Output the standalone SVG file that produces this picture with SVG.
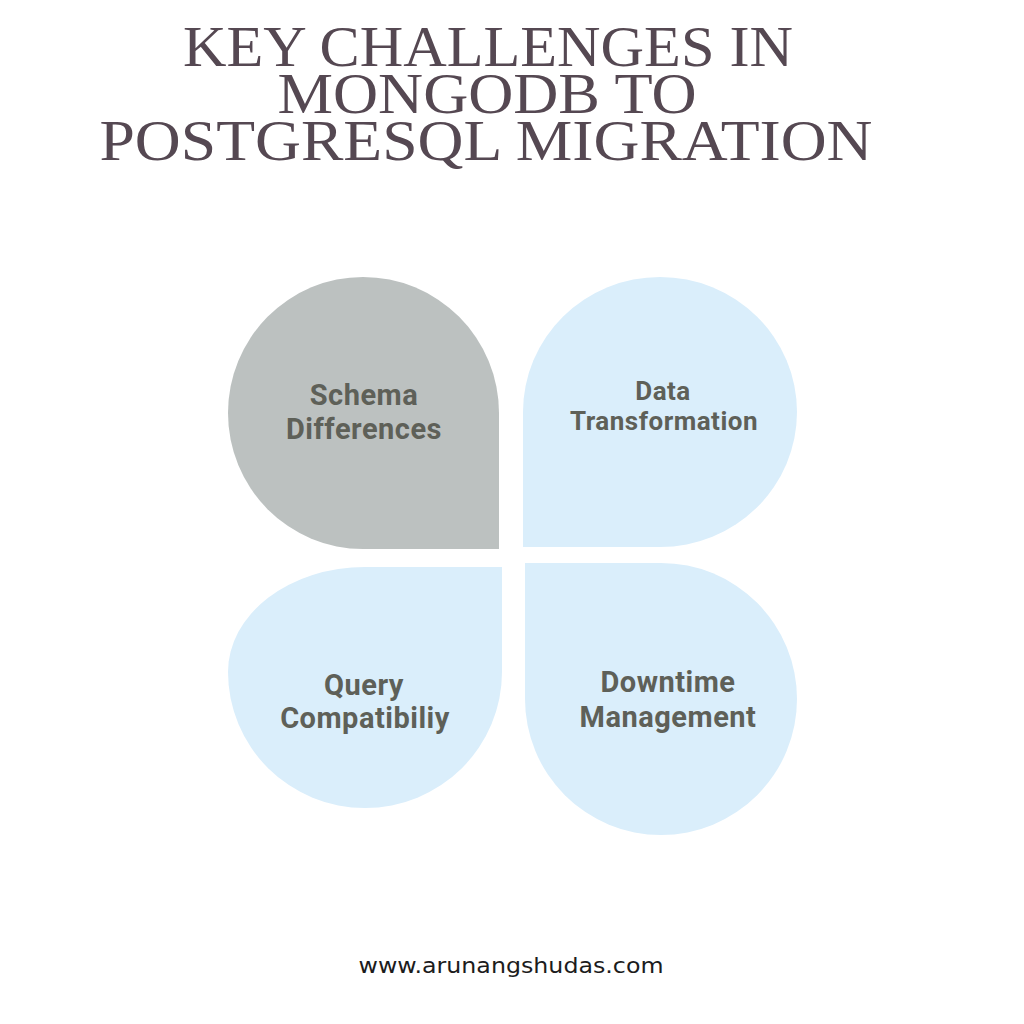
<svg xmlns="http://www.w3.org/2000/svg" width="1024" height="1024" viewBox="0 0 1024 1024">
<style>
.title{font-family:"Liberation Serif","DejaVu Serif",serif;font-size:46px;fill:#554852;text-anchor:middle}
.lbl{font-family:Roboto,"Liberation Sans",sans-serif;font-weight:bold;font-size:29px;letter-spacing:0.5px;fill:#5e6058;text-anchor:middle}
.sm{font-size:26px}
.gray{fill:#bcc1c0}
.blue{fill:#daeefb}
.foot{font-family:"DejaVu Sans","Liberation Sans",sans-serif;font-size:21px;fill:#1c1c1c;text-anchor:middle}
</style>
<rect width="1024" height="1024" fill="#ffffff"/>
<g id="title">
<text class="title" transform="translate(488,66) scale(1,1.25)" textLength="610" lengthAdjust="spacingAndGlyphs">KEY CHALLENGES IN</text>
<text class="title" transform="translate(487,113) scale(1,1.25)" textLength="419" lengthAdjust="spacingAndGlyphs">MONGODB TO</text>
<text class="title" transform="translate(486,160) scale(1,1.25)" textLength="773" lengthAdjust="spacingAndGlyphs">POSTGRESQL MIGRATION</text>
</g>
<g id="connectors"></g>
<g id="schema">
<path class="gray" d="M228,413 A135,136 0 0 1 363,277 A136,136 0 0 1 499,413 L499,549 L363,549 A135,136 0 0 1 228,413 Z"/>
<text class="lbl" x="364" y="405">Schema</text>
<text class="lbl" x="364" y="439">Differences</text>
</g>
<g id="data">
<path class="blue" d="M523,412 A137,135 0 0 1 660,277 A137,135 0 0 1 797,412 A137,135 0 0 1 660,547 L523,547 Z"/>
<text class="lbl sm" x="663" y="400">Data</text>
<text class="lbl sm" x="664" y="430">Transformation</text>
</g>
<g id="query">
<path class="blue" d="M502,567 L502,672 A137,136 0 0 1 365,808 A137,136 0 0 1 228,672 A137,105 0 0 1 365,567 Z"/>
<text class="lbl" x="364" y="695">Query</text>
<text class="lbl" x="365" y="728">Compatibiliy</text>
</g>
<g id="downtime">
<path class="blue" d="M525,563 L661,563 A136,136 0 0 1 797,699 A136,136 0 0 1 661,835 A136,136 0 0 1 525,699 Z"/>
<text class="lbl" x="668" y="692">Downtime</text>
<text class="lbl" x="668" y="727">Management</text>
</g>
<text class="foot" x="511" y="973" textLength="305" lengthAdjust="spacingAndGlyphs">www.arunangshudas.com</text>
</svg>
